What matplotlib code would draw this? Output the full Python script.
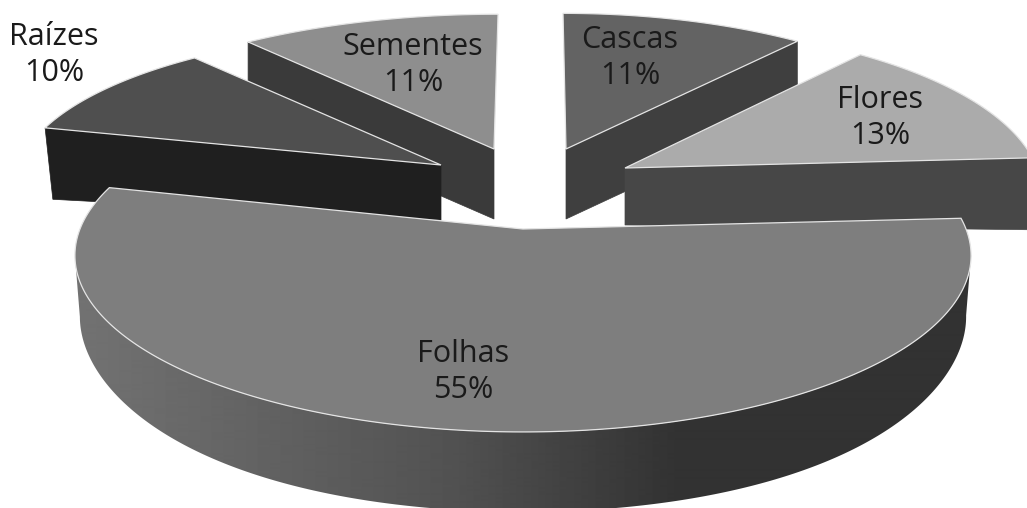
"""Pizza 3D explodida em tons de cinza (partes da planta)."""

import numpy as np
import matplotlib
matplotlib.use("Agg")
import matplotlib.pyplot as plt
from matplotlib.patches import Polygon

# ============ DADOS ============
categorias = ["Cascas", "Flores", "Folhas", "Raízes", "Sementes"]
valores = [11, 13, 55, 10, 11]
# ===============================

K = 0.15  # perspectiva: a frente fica maior que o fundo

# cx, cy, rx, ry, shear, profundidade, extra nas pontas, expoente do extra, afunilamento
GEOM = {
    "Cascas":   (566, 149, 409, 156, -0.022, 70, 0, 1, 0),
    "Flores":   (625, 168, 412, 164, 0.0, 57, 15, 1, 0),
    "Folhas":   (523, 229, 443, 172.5, 0.0, 80, -20, 4, 5),
    "Raízes":   (441, 165, 422, 155, -0.05, 55, 17, 1, 8),
    "Sementes": (494, 149, 436, 155, 0.03, 70, 0, 1, 0),
}
CORES = {
    "Cascas":   ("#636363", "#3f3f3f"),
    "Flores":   ("#ababab", "#474747"),
    "Folhas":   ("#7e7e7e", None),
    "Raízes":   ("#4f4f4f", "#1f1f1f"),
    "Sementes": ("#8e8e8e", "#3a3a3a"),
}
ROTULOS = {
    "Cascas":   (630, 58),
    "Flores":   (880, 118),
    "Folhas":   (463, 372),
    "Raízes":   (54, 55),
    "Sementes": (413, 65),
}
ORDEM = ["Sementes", "Cascas", "Raízes", "Flores", "Folhas"]


def projetar(nome, theta):
    """Passa um angulo (graus, horario a partir do topo) para pixels."""
    cx, cy, rx, ry, shear = GEOM[nome][:5]
    th = np.radians(theta)
    u, v = np.sin(th), np.cos(th)
    s = 1 / (1 + K * v)
    return cx + rx * u * s + shear * ry * v * s, cy - ry * v * s


def base(nome, theta, x, y):
    """Ponto de baixo da parede lateral."""
    prof, extra, expo, taper = GEOM[nome][5:]
    u = np.sin(np.radians(theta))
    return x - taper * u, y + prof + extra * np.abs(u) ** expo


fig = plt.figure(figsize=(10.27, 5.08), dpi=100)
ax = fig.add_axes([0, 0, 1, 1])

# degrade horizontal da parede externa da fatia maior
colunas = np.arange(1027)
degrade = np.interp(colunas, [80, 450, 680, 1000], [0x72, 0x52, 0x32, 0x32])[None, :]

# angulos de cada fatia a partir dos valores
fim = np.cumsum(valores) / np.sum(valores) * 360
inicio = fim - np.array(valores) / np.sum(valores) * 360
angulos = {c: (i, f) for c, i, f in zip(categorias, inicio, fim)}

z = 1
for nome in ORDEM:
    a0, a1 = angulos[nome]
    cx, cy = GEOM[nome][:2]
    topo, lateral = CORES[nome]
    thetas = np.linspace(a0, a1, 300)
    xs, ys = projetar(nome, thetas)

    if lateral is None:
        # so o trecho entre os extremos em x, para o contorno nao se cruzar
        i0, i1 = np.argmax(xs), np.argmin(xs)
        tx, ty = xs[i0:i1 + 1], ys[i0:i1 + 1]
        bx, by = base(nome, thetas[i0:i1 + 1], tx, ty)
        contorno = np.column_stack([np.r_[tx, bx[::-1]], np.r_[ty, by[::-1]]])
        parede = Polygon(contorno, closed=True, facecolor="none", edgecolor="none")
        ax.add_patch(parede)
        img = ax.imshow(degrade, cmap="gray", vmin=0, vmax=255, extent=(0, 1027, 508, 0),
                        aspect="auto", interpolation="bilinear", zorder=z)
        img.set_clip_path(parede)
    else:
        # parede radial virada para o observador
        borda = a0 if (a0 + a1) / 2 > 180 else a1
        px, py = projetar(nome, borda)
        qx, qy = base(nome, borda, px, py)
        cbx, cby = base(nome, 0, cx, cy)
        ax.add_patch(Polygon([(cx, cy), (px, py), (qx, qy), (cbx, cby)], closed=True,
                             facecolor=lateral, edgecolor=lateral, linewidth=0.5, zorder=z))
    z += 1

    pontos = np.column_stack([np.r_[cx, xs], np.r_[cy, ys]])
    ax.add_patch(Polygon(pontos, closed=True, facecolor=topo, edgecolor="#e4e4e4", linewidth=0.9, zorder=z))
    z += 1

for nome, valor in zip(categorias, valores):
    x, y = ROTULOS[nome]
    ax.text(x, y, f"{nome}\n{valor}%", ha="center", va="center", fontsize=22,
            family="Open Sans", color="#1a1a1a", linespacing=1.3, zorder=50)

ax.set_xlim(0, 1027)
ax.set_ylim(508, 0)
ax.axis("off")

fig.savefig("out.png", dpi=100)
